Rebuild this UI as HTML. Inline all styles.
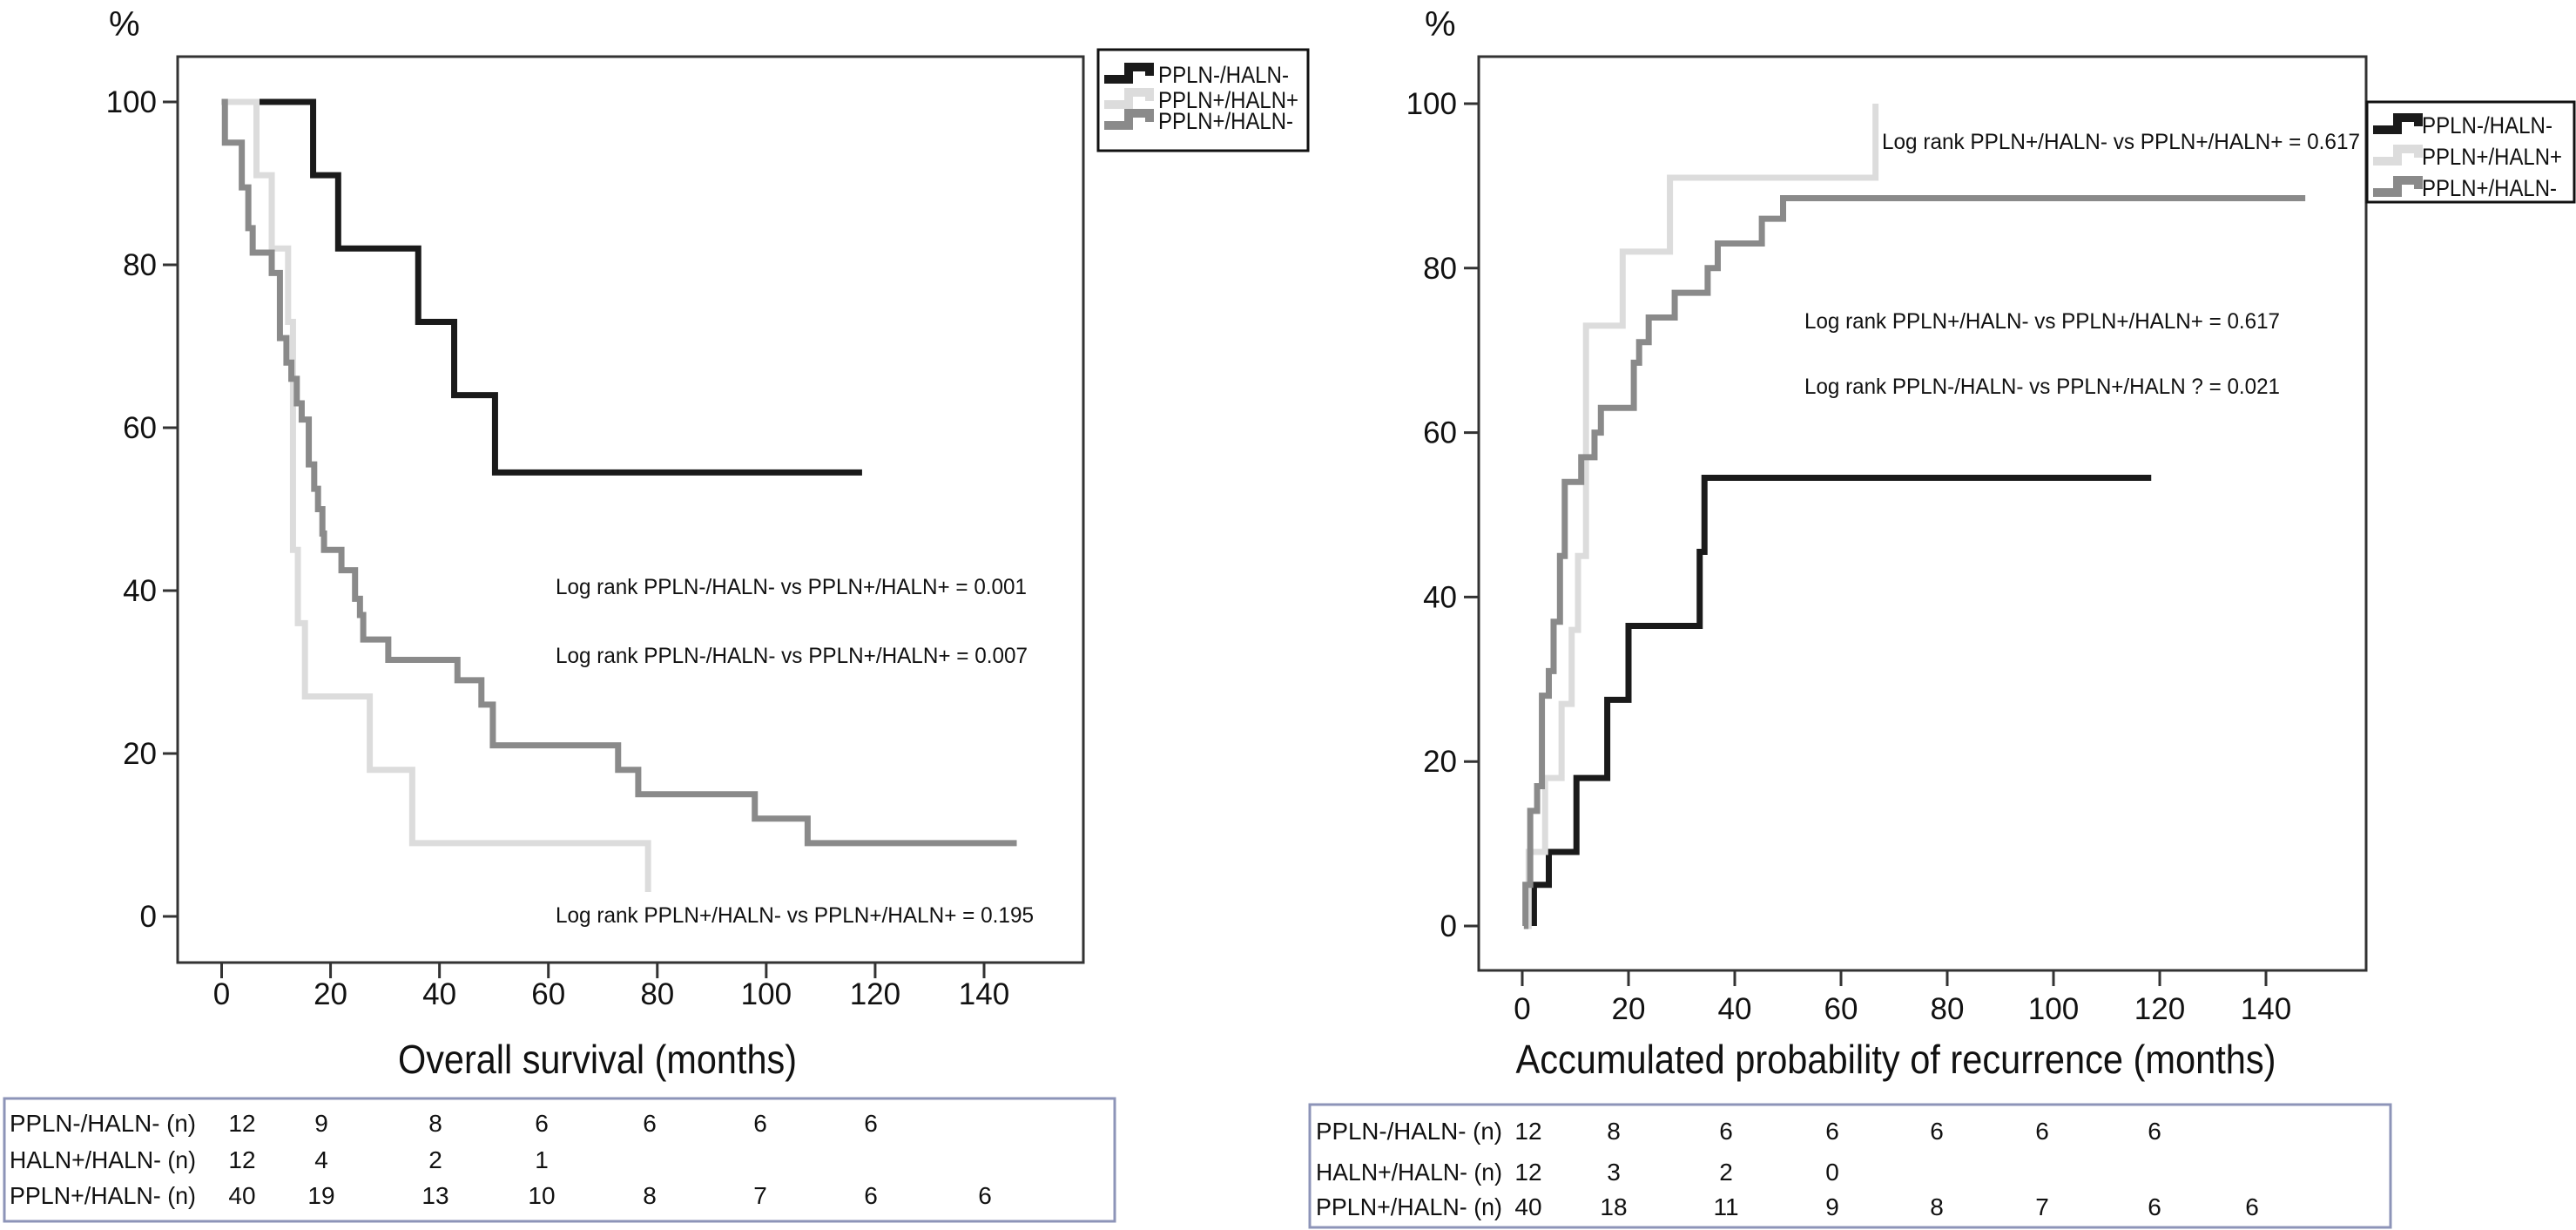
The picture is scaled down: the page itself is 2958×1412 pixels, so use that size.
<!DOCTYPE html>
<html><head><meta charset="utf-8">
<style>
html,body{margin:0;padding:0;background:#fff;}
svg{display:block;font-family:"Liberation Sans",sans-serif;}
</style></head>
<body>
<svg id="chart" width="2958" height="1412" viewBox="0 0 2958 1412" xmlns="http://www.w3.org/2000/svg">
</svg>
<script>
// ---------- Data ----------
const xTicks = [0,20,40,60,80,100,120,140];
const yTicks = [0,20,40,60,80,100];
const seriesNames = ["PPLN-/HALN-","PPLN+/HALN+","PPLN+/HALN-"];

// Left: overall survival (%), step times (months) and values
const osBlackT = [6,16.8,21.4,36.1,42.7,50.2,117.6];
const osBlackV = [100,91,82,73,64,54.5,54.5];
const osLightT = [0,6.4,9.2,12.2,13.1,14,15.3,27.2,35,78.3,78.3];
const osLightV = [100,91,82,73,45,36,27,18,9,9,3];
const osGrayT = [0,0.6,3.7,4.9,5.7,9.2,10.7,11.9,12.8,13.8,14.7,16,17,17.7,18.5,18.8,22,24.5,25.4,26,30.6,43.3,47.7,49.8,72.8,76.5,97.9,107.6,146];
const osGrayV = [100,95,89.5,84.5,81.5,79,71,68,66,63,61,55.5,52.5,50,47,45,42.5,39,37,34,31.5,29,26,21,18,15,12,9,9];

// Right: accumulated probability of recurrence (%)
const recBlackT = [2.2,2.2,5,10.2,16,20,33.4,34.3,118.4];
const recBlackV = [0,5,9,18,27.5,36.5,45.5,54.5,54.5];
const recLightT = [0.6,1.2,4.3,7.4,9.3,10.5,12,18.9,27.8,66.5,66.5];
const recLightV = [0,9,18,27,36,45,73,82,91,91,100];
const recGrayT = [0.3,0.6,1.5,2.8,3.7,5,5.9,7.1,8,11.1,13.6,14.8,21,22,23.8,28.7,34.9,36.8,45.1,49.1,147.4];
const recGrayV = [0,5,14,17,28,31,37,45,54,57,60,63,68.5,71,74,77,80,83,86,88.5,88.5];

// At-risk tables
const osRiskLabels = ["PPLN-/HALN- (n)","HALN+/HALN- (n)","PPLN+/HALN- (n)"];
const osRiskRow1 = ["12","9","8","6","6","6","6"];
const osRiskRow2 = ["12","4","2","1"];
const osRiskRow3 = ["40","19","13","10","8","7","6","6"];
const recRiskRow1 = ["12","8","6","6","6","6","6"];
const recRiskRow2 = ["12","3","2","0"];
const recRiskRow3 = ["40","18","11","9","8","7","6","6"];

const osNotes = ["Log rank PPLN-/HALN- vs PPLN+/HALN+ = 0.001","Log rank PPLN-/HALN- vs PPLN+/HALN+ = 0.007","Log rank PPLN+/HALN- vs PPLN+/HALN+ = 0.195"];
const recNotes = ["Log rank PPLN+/HALN- vs PPLN+/HALN+ = 0.617","Log rank PPLN+/HALN- vs PPLN+/HALN+ = 0.617","Log rank PPLN-/HALN- vs PPLN+/HALN ? = 0.021"];

// ---------- Drawing ----------
const svg = document.getElementById('chart');
const NS = 'http://www.w3.org/2000/svg';
function mk(tag, attrs, parent){
  const e = document.createElementNS(NS, tag);
  for (const k in attrs) e.setAttribute(k, attrs[k]);
  (parent||svg).appendChild(e);
  return e;
}
function txt(s, attrs, parent){ const e = mk('text', attrs, parent); e.textContent = s; return e; }

const colors = ["#1a1a1a","#dcdcdc","#8a8a8a"];
const legendW = [150,161,155];

function panel(cfg){
  const g = mk('g', {});
  
  
  const sx = v => cfg.x0 + (cfg.x140 - cfg.x0) * v / 140;
  const sy = v => cfg.y0 + (cfg.y100 - cfg.y0) * v / 100;
  const fr = mk('rect', {x:cfg.bl, y:cfg.bt, width:cfg.br-cfg.bl, height:cfg.bb-cfg.bt, fill:'none', stroke:'#333', 'stroke-width':3}, g);
  
  
  yTicks.forEach(v => {
    const t = mk('line', {x1:cfg.bl-17, x2:cfg.bl, y1:sy(v), y2:sy(v), stroke:'#333', 'stroke-width':3}, g);
    
    
    const l = txt(String(v), {x:cfg.ylx, y:sy(v)+12, 'font-size':35, 'text-anchor':'end', fill:'#111'}, g);
    
    
  });
  xTicks.forEach(v => {
    const t = mk('line', {x1:sx(v), x2:sx(v), y1:cfg.bb, y2:cfg.bb+18, stroke:'#333', 'stroke-width':3}, g);
    
    
    const l = txt(String(v), {x:sx(v), y:cfg.xly, 'font-size':35, 'text-anchor':'middle', fill:'#111'}, g);
    
    
  });
  const pc = txt('%', {x:cfg.pctx, y:41, 'font-size':40, fill:'#111'}, g);
  
  
  const at = txt(cfg.title, {x:cfg.titleX, y:1232, 'font-size':46, 'text-anchor':'middle', fill:'#111', textLength:cfg.titleW, lengthAdjust:'spacingAndGlyphs'}, g);
  
  
  cfg.series.forEach((s, i) => {
    const T = s[0], V = s[1];
    let d = 'M' + sx(T[0]) + ' ' + sy(V[0]);
    for (let k = 1; k < T.length; k++){
      d += ' L' + sx(T[k]) + ' ' + sy(V[k-1]) + ' L' + sx(T[k]) + ' ' + sy(V[k]);
    }
    const p = mk('path', {d:d, fill:'none', stroke:colors[i], 'stroke-width':7, 'stroke-linejoin':'miter'}, g);
    
    
  });
  cfg.notes.forEach((n, i) => {
    const a = cfg.notePos[i];
    const e = txt(n, {x:a[0], y:a[1], 'font-size':25, fill:'#111', textLength:a[2], lengthAdjust:'spacingAndGlyphs'}, g);
    
    
  });
  const L = cfg.leg;
  const lg = mk('g', {}, g);
  
  
  mk('rect', {x:L.x, y:L.y, width:L.w, height:L.h, fill:'#fff', stroke:'#111', 'stroke-width':3}, lg);
  seriesNames.forEach((n, i) => {
    const by = L.base[i];
    const ix = L.x + 7;
    const ic = mk('path', {d:`M${ix} ${by-4} L${ix+28} ${by-4} L${ix+28} ${by-18} L${ix+52} ${by-18} L${ix+52} ${by-8}`, fill:'none', stroke:colors[i], 'stroke-width':10}, lg);
    
    
    const t = txt(n, {x:L.tx, y:by, 'font-size':27, fill:'#111', textLength:legendW[i], lengthAdjust:'spacingAndGlyphs'}, lg);
    
    
  });
  const R = cfg.risk;
  const tg = mk('g', {}, g);
  
  
  mk('rect', {x:R.x, y:R.y, width:R.w, height:R.h, fill:'none', stroke:'#8d94b8', 'stroke-width':3}, tg);
  R.rows.forEach((row, r) => {
    const lab = txt(osRiskLabels[r], {x:R.lx, y:R.base[r], 'font-size':28, fill:'#111', textLength:214, lengthAdjust:'spacingAndGlyphs'}, tg);
    
    
    row.forEach((v, c) => {
      const e = txt(v, {x:R.cols[c], y:R.base[r], 'font-size':28, 'text-anchor':'middle', fill:'#111'}, tg);
      
      
    });
  });
}

panel({
  name:'overall-survival-panel',
  bl:204, br:1244, bt:65, bb:1105,
  x0:254.5, x140:1130, y0:1052, y100:117,
  ylx:180, xly:1153, pctx:125,
  title:'Overall survival (months)', titleX:686, titleW:458,
  series:[[osBlackT,osBlackV],[osLightT,osLightV],[osGrayT,osGrayV]],
  notes:osNotes, notePos:[[638,682,541],[638,761,542],[638,1059,549]],
  leg:{x:1261, y:57, w:241, h:116, tx:1330, base:[95,124,148]},
  risk:{x:5, y:1261, w:1275, h:141, lx:11, base:[1299,1341,1382],
    cols:[278,369,500,622,746,873,1000,1131],
    rows:[osRiskRow1,osRiskRow2,osRiskRow3]}
});

panel({
  name:'recurrence-panel',
  bl:1698, br:2717, bt:65, bb:1114,
  x0:1748, x140:2602, y0:1063, y100:119,
  ylx:1673, xly:1170, pctx:1636,
  title:'Accumulated probability of recurrence (months)', titleX:2177, titleW:873,
  series:[[recBlackT,recBlackV],[recLightT,recLightV],[recGrayT,recGrayV]],
  notes:recNotes, notePos:[[2161,171,549],[2072,377,546],[2072,452,546]],
  leg:{x:2718, y:117, w:238, h:115, tx:2781, base:[153,189,225]},
  risk:{x:1504, y:1268, w:1241, h:141, lx:1511, base:[1308,1355,1395],
    cols:[1755,1853,1982,2104,2224,2345,2474,2586],
    rows:[recRiskRow1,recRiskRow2,recRiskRow3]}
});
</script>
</body></html>
